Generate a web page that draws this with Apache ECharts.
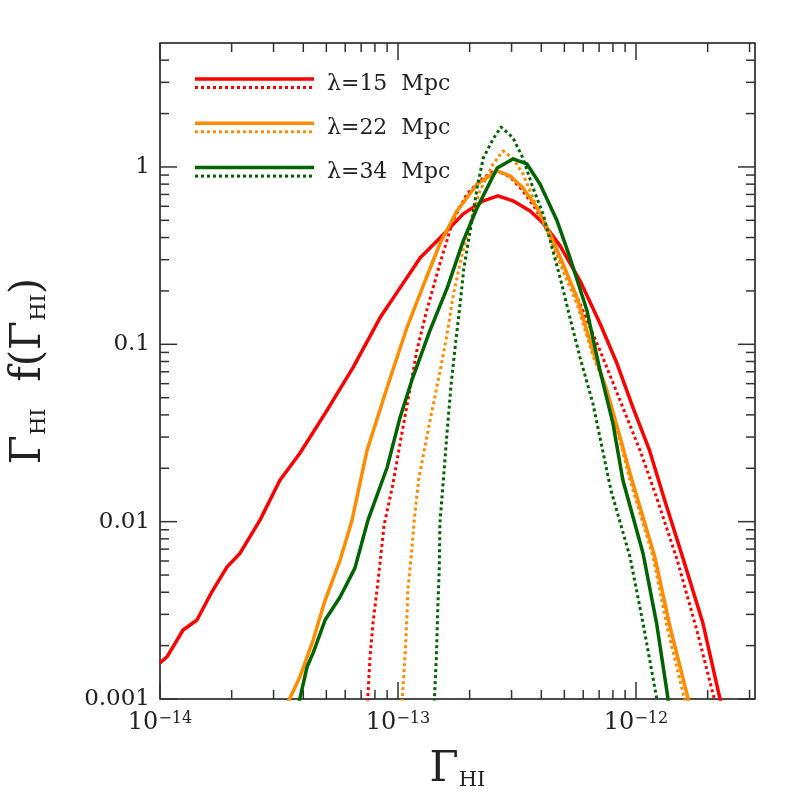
<!DOCTYPE html>
<html>
<head>
<meta charset="utf-8">
<script src="https://cdn.jsdelivr.net/npm/echarts@6/dist/echarts.min.js"></script>
<style>
  html, body { margin: 0; padding: 0; background: #fff; }
  #main { width: 797px; height: 797px; }
</style>
</head>
<body>
<div id="main"></div>
<script>
// 数据 (Gamma_HI, Gamma_HI f(Gamma_HI))，a = 实线，b = 点线
var gam15a = [1.00e-14, 1.07e-14, 1.25e-14, 1.43e-14, 1.65e-14, 1.91e-14, 2.17e-14, 2.63e-14, 3.19e-14, 3.87e-14, 5.03e-14, 6.47e-14, 8.40e-14, 1.02e-13, 1.24e-13, 1.50e-13, 1.88e-13, 2.28e-13, 2.63e-13, 3.04e-13, 3.59e-13, 4.07e-13, 4.80e-13, 5.82e-13, 7.06e-13, 8.32e-13, 9.71e-13, 1.14e-12, 1.32e-12, 1.57e-12, 1.91e-12, 2.27e-12];
var f15a   = [1.60e-3, 1.73e-3, 2.45e-3, 2.79e-3, 4.01e-3, 5.54e-3, 6.64e-3, 0.0102, 0.0171, 0.0243, 0.0424, 0.0739, 0.141, 0.208, 0.308, 0.398, 0.544, 0.644, 0.687, 0.644, 0.565, 0.484, 0.359, 0.228, 0.131, 0.0779, 0.0440, 0.0252, 0.0132, 6.31e-3, 2.68e-3, 9.6e-4];

var gam15b = [7.45e-14, 7.63e-14, 7.85e-14, 8.16e-14, 8.40e-14, 8.74e-14, 9.53e-14, 1.02e-13, 1.10e-13, 1.20e-13, 1.32e-13, 1.50e-13, 1.70e-13, 1.95e-13, 2.28e-13, 2.56e-13, 2.96e-13, 3.35e-13, 3.84e-13, 4.23e-13, 4.80e-13, 5.82e-13, 7.06e-13, 8.57e-13, 1.04e-12, 1.22e-12, 1.49e-12, 1.80e-12, 2.15e-12];
var f15b   = [9.6e-4, 1.73e-3, 2.68e-3, 4.11e-3, 5.83e-3, 9.55e-3, 0.0164, 0.0276, 0.0482, 0.0922, 0.155, 0.285, 0.497, 0.705, 0.867, 0.962, 0.878, 0.733, 0.565, 0.436, 0.296, 0.169, 0.0922, 0.0482, 0.0252, 0.0137, 6.07e-3, 2.45e-3, 9.6e-4];

var gam22a = [3.45e-14, 3.87e-14, 4.40e-14, 4.94e-14, 5.71e-14, 6.41e-14, 7.41e-14, 9.00e-14, 1.09e-13, 1.29e-13, 1.50e-13, 1.77e-13, 2.15e-13, 2.61e-13, 2.96e-13, 3.35e-13, 3.84e-13, 4.35e-13, 4.93e-13, 5.65e-13, 6.59e-13, 7.55e-13, 8.57e-13, 9.62e-13, 1.20e-12, 1.39e-12, 1.67e-12];
var f22a   = [9.6e-4, 1.33e-3, 2.15e-3, 3.6e-3, 6.07e-3, 0.0102, 0.0252, 0.0571, 0.124, 0.222, 0.369, 0.565, 0.802, 0.950, 0.890, 0.762, 0.588, 0.420, 0.285, 0.183, 0.0922, 0.0549, 0.0299, 0.0171, 6.31e-3, 2.55e-3, 9.6e-4];

var gam22b = [1.04e-13, 1.07e-13, 1.09e-13, 1.10e-13, 1.14e-13, 1.17e-13, 1.22e-13, 1.30e-13, 1.39e-13, 1.49e-13, 1.59e-13, 1.70e-13, 1.82e-13, 2.01e-13, 2.21e-13, 2.51e-13, 2.76e-13, 3.04e-13, 3.35e-13, 3.69e-13, 4.23e-13, 4.93e-13, 5.65e-13, 6.59e-13, 7.55e-13, 9.44e-13, 1.18e-12, 1.35e-12, 1.61e-12];
var f22b   = [9.6e-4, 1.73e-3, 2.90e-3, 4.11e-3, 6.64e-3, 0.0102, 0.0171, 0.0269, 0.0424, 0.0667, 0.105, 0.183, 0.285, 0.478, 0.733, 1.04, 1.23, 1.12, 0.913, 0.669, 0.436, 0.260, 0.169, 0.0864, 0.0549, 0.0171, 6.31e-3, 2.55e-3, 9.6e-4];

var gam34a = [3.84e-14, 4.15e-14, 4.40e-14, 4.94e-14, 5.71e-14, 6.59e-14, 7.48e-14, 9.00e-14, 1.02e-13, 1.15e-13, 1.36e-13, 1.61e-13, 1.88e-13, 2.15e-13, 2.61e-13, 3.04e-13, 3.48e-13, 3.95e-13, 4.66e-13, 5.28e-13, 6.22e-13, 7.06e-13, 8.00e-13, 8.81e-13, 1.07e-12, 1.22e-12, 1.37e-12];
var f34a   = [9.6e-4, 1.52e-3, 1.82e-3, 2.79e-3, 3.76e-3, 5.47e-3, 0.0102, 0.0202, 0.0387, 0.0641, 0.119, 0.208, 0.383, 0.588, 0.987, 1.11, 1.04, 0.802, 0.497, 0.308, 0.155, 0.0711, 0.0358, 0.0171, 6.64e-3, 2.68e-3, 9.6e-4];

var gam34b = [1.42e-13, 1.45e-13, 1.47e-13, 1.49e-13, 1.50e-13, 1.55e-13, 1.61e-13, 1.67e-13, 1.75e-13, 1.82e-13, 1.89e-13, 2.01e-13, 2.15e-13, 2.28e-13, 2.51e-13, 2.71e-13, 3.04e-13, 3.35e-13, 3.69e-13, 4.07e-13, 4.80e-13, 5.28e-13, 5.82e-13, 6.59e-13, 7.85e-13, 9.44e-13, 1.07e-12, 1.23e-12];
var f34b   = [9.6e-4, 1.73e-3, 3.30e-3, 5.33e-3, 9.8e-3, 0.0171, 0.0327, 0.0586, 0.105, 0.165, 0.267, 0.436, 0.762, 1.12, 1.44, 1.68, 1.46, 1.12, 0.762, 0.544, 0.237, 0.141, 0.0842, 0.0464, 0.0150, 6.31e-3, 2.68e-3, 9.6e-4];

var scales = ['15', '22', '34'];   // λ (Mpc)
var colors = ['#ff0000', '#ff8c00', '#006400'];

// 坐标轴范围与刻度
var xMin = 1e-14, xMax = 3.162e-12;
var yMin = 1e-3, yMax = 5;
var xMajorTicks = [1e-14, 1e-13, 1e-12];
var xMinorTicks = [2e-14, 3e-14, 4e-14, 5e-14, 6e-14, 7e-14, 8e-14, 9e-14,
                   2e-13, 3e-13, 4e-13, 5e-13, 6e-13, 7e-13, 8e-13, 9e-13,
                   2e-12, 3e-12];
var yMajorTicks = [0.001, 0.01, 0.1, 1];
var yMinorTicks = [0.002, 0.003, 0.004, 0.005, 0.006, 0.007, 0.008, 0.009,
                   0.02, 0.03, 0.04, 0.05, 0.06, 0.07, 0.08, 0.09,
                   0.2, 0.3, 0.4, 0.5, 0.6, 0.7, 0.8, 0.9,
                   2, 3, 4];

var FONT = 'DejaVu Serif';
var INK = '#222';

function pairs(xs, ys) {
    return xs.map(function (x, i) { return [x, ys[i]]; });
}

function lineSeries(xs, ys, color, dotted) {
    return {
        type: 'line',
        data: pairs(xs, ys),
        showSymbol: false,
        silent: true,
        clip: true,
        z: 3,
        lineStyle: {
            color: color,
            width: dotted ? 3 : 3.5,
            type: dotted ? [3, 3] : 'solid',
            cap: 'butt',
            join: 'round'
        }
    };
}

// 四边的刻度：主刻度长，次刻度短，朝内
function xTicks(params, api) {
    var x = api.coord([api.value(0), yMin])[0];
    var yb = api.coord([xMin, yMin])[1];
    var yt = api.coord([xMin, yMax])[1];
    var len = api.value(2);
    var st = { stroke: '#333', lineWidth: 1.5 };
    return { type: 'group', children: [
        { type: 'line', shape: { x1: x, y1: yb, x2: x, y2: yb - len }, style: st },
        { type: 'line', shape: { x1: x, y1: yt, x2: x, y2: yt + len }, style: st }
    ] };
}
function yTicks(params, api) {
    var y = api.coord([xMin, api.value(1)])[1];
    var xl = api.coord([xMin, yMin])[0];
    var xr = api.coord([xMax, yMin])[0];
    var len = api.value(2);
    var st = { stroke: '#333', lineWidth: 1.5 };
    return { type: 'group', children: [
        { type: 'line', shape: { x1: xl, y1: y, x2: xl + len, y2: y }, style: st },
        { type: 'line', shape: { x1: xr, y1: y, x2: xr - len, y2: y }, style: st }
    ] };
}

function decade(v) {
    var e = Math.log(v) / Math.LN10;
    var r = Math.round(e);
    return Math.abs(e - r) < 1e-6 ? r : null;
}

var myChart = echarts.init(document.getElementById('main'));

// 图例（实线 + 点线 成对）
var legendGraphic = [];
for (var i = 0; i < scales.length; i++) {
    var y0 = 79 + i * 44.3;
    legendGraphic.push(
        { type: 'line', silent: true, shape: { x1: 195, y1: y0, x2: 314, y2: y0 },
          style: { stroke: colors[i], lineWidth: 3.5 } },
        { type: 'line', silent: true, shape: { x1: 195, y1: y0 + 8.5, x2: 314, y2: y0 + 8.5 },
          style: { stroke: colors[i], lineWidth: 3, lineDash: [3, 3] } },
        { type: 'text', silent: true,
          style: { x: 327, y: y0 + 5, text: 'λ=' + scales[i] + '  Mpc', font: '22px "' + FONT + '"',
                   fill: INK, verticalAlign: 'middle' } }
    );
}

var option = {
    animation: false,
    backgroundColor: '#fff',
    grid: {
        left: 160, top: 43, right: 42, bottom: 98,
        show: true, borderColor: '#111', borderWidth: 1.5, backgroundColor: 'transparent'
    },
    xAxis: {
        type: 'log', logBase: 10, min: xMin, max: xMax,
        axisLine: { show: false },
        axisTick: { show: false },
        splitLine: { show: false },
        axisLabel: {
            margin: 12,
            color: INK,
            fontFamily: FONT,
            fontSize: 24,
            formatter: function (v) {
                var e = decade(v);
                return e === null ? '' : '10{e|−' + Math.abs(e) + '}';
            },
            rich: {
                e: { fontFamily: FONT, fontSize: 16, color: INK, verticalAlign: 'top' }
            }
        },
        name: '{g|Γ}{s|HI}',
        nameLocation: 'middle',
        nameGap: 50,
        nameTextStyle: {
            rich: {
                g: { fontFamily: FONT, fontSize: 42, color: INK },
                s: { fontFamily: FONT, fontSize: 21, color: INK, verticalAlign: 'bottom' }
            }
        }
    },
    yAxis: {
        type: 'log', logBase: 10, min: yMin, max: yMax,
        axisLine: { show: false },
        axisTick: { show: false },
        splitLine: { show: false },
        axisLabel: {
            margin: 10,
            color: INK,
            fontFamily: FONT,
            fontSize: 23,
            formatter: function (v) {
                var e = decade(v);
                if (e === null) return '';
                return e >= 0 ? String(Math.pow(10, e)) : Math.pow(10, e).toFixed(-e);
            }
        },
        name: '{g|Γ}{s|HI}{g|  f(Γ}{s|HI}{g|)}',
        nameLocation: 'middle',
        nameRotate: 90,
        nameGap: 110,
        nameTextStyle: {
            rich: {
                g: { fontFamily: FONT, fontSize: 42, color: INK },
                s: { fontFamily: FONT, fontSize: 21, color: INK, verticalAlign: 'bottom' }
            }
        }
    },
    graphic: legendGraphic,
    series: [
        {
            type: 'custom', renderItem: xTicks, silent: true, z: 1,
            encode: { x: 0, y: 1 },
            data: xMajorTicks.map(function (v) { return [v, yMin, 17]; })
                .concat(xMinorTicks.map(function (v) { return [v, yMin, 9]; }))
        },
        {
            type: 'custom', renderItem: yTicks, silent: true, z: 1,
            encode: { x: 0, y: 1 },
            data: yMajorTicks.map(function (v) { return [xMin, v, 17]; })
                .concat(yMinorTicks.map(function (v) { return [xMin, v, 9]; }))
        },
        lineSeries(gam15a, f15a, colors[0], false),
        lineSeries(gam15b, f15b, colors[0], true),
        lineSeries(gam22a, f22a, colors[1], false),
        lineSeries(gam22b, f22b, colors[1], true),
        lineSeries(gam34a, f34a, colors[2], false),
        lineSeries(gam34b, f34b, colors[2], true)
    ]
};

myChart.setOption(option);
</script>
</body>
</html>
